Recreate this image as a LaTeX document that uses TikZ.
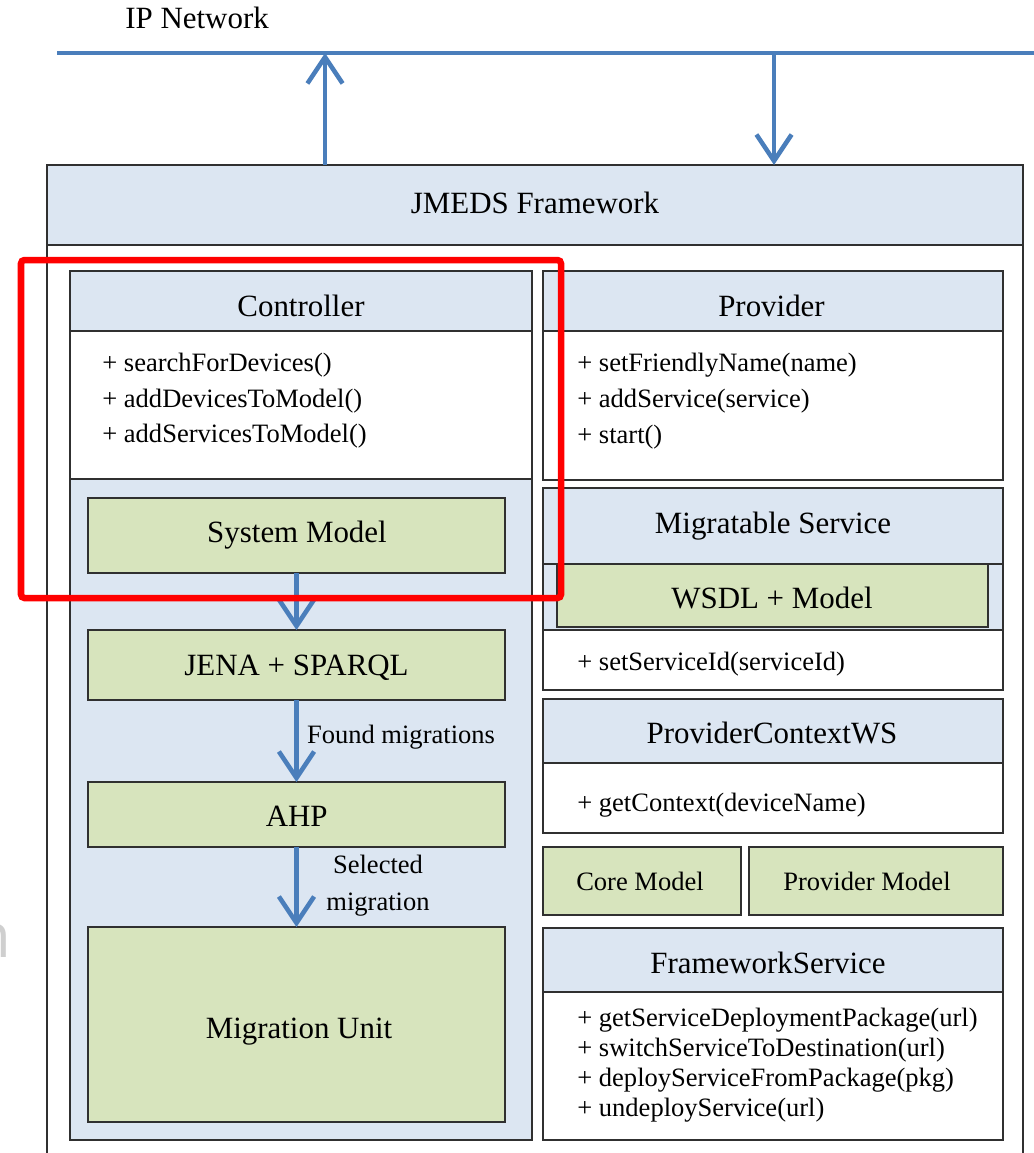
\documentclass[tikz,border=0pt]{standalone}
\usepackage{fontspec}
\setmainfont{Liberation Serif}
\newfontfamily\ghostfont{Open Sans}
\usetikzlibrary{arrows.meta,fit}
\definecolor{hdrblue}{HTML}{DCE6F2}
\definecolor{boxgreen}{HTML}{D7E4BD}
\definecolor{flowblue}{HTML}{4A7EBB}
\definecolor{edgegray}{HTML}{303030}
\definecolor{markred}{HTML}{FF0000}
\definecolor{ghostgray}{HTML}{CFCFCF}
\newcommand\hdfont{\fontsize{17.6}{21}\selectfont}
\newcommand\mtfont{\fontsize{15.1}{18}\selectfont}
\tikzset{
  frame/.style={draw=edgegray, line width=0.85pt, inner sep=0pt, outer sep=0pt},
  hdrbox/.style={frame, fill=hdrblue},
  greenbox/.style={frame, fill=boxgreen},
  whitebox/.style={frame, fill=white},
  titletext/.style={anchor=base, inner sep=0pt, font=\hdfont},
  methodtext/.style={anchor=base west, inner sep=0pt, font=\mtfont},
  labeltext/.style={anchor=base, inner sep=0pt, font=\mtfont},
  flow/.style={draw=flowblue, line width=2.6pt, -{Straight Barb[length=15pt,width=20pt]}},
  netline/.style={draw=flowblue, line width=2.4pt},
  focusbox/.style={draw=markred, line width=3.7pt, rounded corners=2pt, inner sep=0pt},
}
\begin{document}
\begin{tikzpicture}[x=0.02cm,y=-0.02cm]
\useasboundingbox (0,0) rectangle (1034,1153);
\fill[white] (0,0) rectangle (1034,1153);

% faint cropped letter at the left edge
\node[anchor=base east, inner sep=0pt, text=ghostgray, font=\ghostfont\fontsize{35}{40}\selectfont] (ghost) at (12,957) {n};

% IP network
\node[anchor=base west, inner sep=0pt, font=\hdfont] (iplabel) at (125,28) {IP Network};
\coordinate (netL) at (57,53);
\coordinate (netR) at (1040,53);
\draw[netline] (netL) -- (netR);

% JMEDS framework
\node[whitebox, fit={(47,165)(1023,1160)}] (jmedsbody) {};
\node[hdrbox, fit={(47,165)(1023,245)}] (jmedshdr) {};
\node[titletext] (jmedstxt) at (535,213) {JMEDS Framework};
\coordinate (upx) at (325,53);
\coordinate (dnx) at (774,53);
\draw[flow] (upx |- jmedshdr.north) -- (upx);
\draw[flow] (dnx) -- (dnx |- jmedshdr.north);

% Controller column
\node[frame, fill=hdrblue, fit={(70,271)(532,1140)}] (ctrlbody) {};
\node[hdrbox, fit={(70,271)(532,331)}] (ctrlhdr) {};
\node[titletext] (ctrltxt) at (301,316.7) {Controller};
\node[whitebox, fit={(70,331)(532,479)}] (ctrlmeth) {};
\node[methodtext] (cm1) at (102,371.7) {+ searchForDevices()};
\node[methodtext] (cm2) at (102,407.2) {+ addDevicesToModel()};
\node[methodtext] (cm3) at (102,442.7) {+ addServicesToModel()};

\node[greenbox, fit={(88,498)(505,573)}] (sysmodel) {};
\node[titletext] (sysmodeltxt) at (297,542.7) {System Model};
\node[greenbox, fit={(88,630)(505,700)}] (jena) {};
\node[titletext] (jenatxt) at (296.5,675) {JENA + SPARQL};
\node[greenbox, fit={(88,782)(505,847)}] (ahp) {};
\node[titletext] (ahptxt) at (296.7,826.7) {AHP};
\node[greenbox, fit={(88,927)(505,1122)}] (unit) {};
\node[titletext] (unittxt) at (299,1038) {Migration Unit};

\coordinate (ax) at (296.5,0);
\draw[flow] (sysmodel.south -| ax) -- (jena.north -| ax);
\draw[flow] (jena.south -| ax) -- (ahp.north -| ax);
\draw[flow] (ahp.south -| ax) -- (unit.north -| ax);
\node[labeltext] (lblfound) at (401,743.3) {Found migrations};
\node[labeltext] (lblsel) at (378,873.3) {Selected};
\node[labeltext] (lblmig) at (378,910) {migration};

% Provider
\node[whitebox, fit={(543,271)(1003,480)}] (provbody) {};
\node[hdrbox, fit={(543,271)(1003,331)}] (provhdr) {};
\node[titletext] (provtxt) at (771.5,316.7) {Provider};
\node[methodtext] (pm1) at (577,371.7) {+ setFriendlyName(name)};
\node[methodtext] (pm2) at (577,407) {+ addService(service)};
\node[methodtext] (pm3) at (577,443) {+ start()};

% Migratable Service
\node[frame, fill=hdrblue, fit={(543,488)(1003,630)}] (migrtop) {};
\node[hdrbox, fit={(543,488)(1003,564)}] (migrhdr) {};
\node[titletext] (migrtxt) at (773,533.3) {Migratable Service};
\node[greenbox, fit={(557,564)(988,627)}] (wsdl) {};
\node[titletext] (wsdltxt) at (772,608.3) {WSDL + Model};
\node[whitebox, fit={(543,630)(1003,690)}] (migrmeth) {};
\node[frame, line width=1.5pt, fit={(543,488)(1003,690)}] (migrbody) {};
\node[methodtext] (mm1) at (577,670) {+ setServiceId(serviceId)};

% ProviderContextWS
\node[whitebox, fit={(543,699)(1003,833)}] (ctxbody) {};
\node[hdrbox, fit={(543,699)(1003,763)}] (ctxhdr) {};
\node[titletext] (ctxtxt) at (772,743.3) {ProviderContextWS};
\node[methodtext] (xm1) at (577,811.7) {+ getContext(deviceName)};

% Models
\node[greenbox, fit={(543,847)(741,915)}] (coremodel) {};
\node[labeltext] (coremodeltxt) at (640,890) {Core Model};
\node[greenbox, fit={(749,847)(1003,915)}] (provmodel) {};
\node[labeltext] (provmodeltxt) at (867,890) {Provider Model};

% FrameworkService
\node[whitebox, fit={(543,928)(1003,1140)}] (fwbody) {};
\node[hdrbox, fit={(543,928)(1003,992)}] (fwhdr) {};
\node[titletext] (fwtxt) at (768,973.3) {FrameworkService};
\node[methodtext] (fm1) at (577,1026.7) {+ getServiceDeploymentPackage(url)};
\node[methodtext] (fm2) at (577,1056.7) {+ switchServiceToDestination(url)};
\node[methodtext] (fm3) at (577,1086.7) {+ deployServiceFromPackage(pkg)};
\node[methodtext] (fm4) at (577,1116.7) {+ undeployService(url)};

% red highlight
\node[focusbox, fit={(21,260)(561,598)}] (focus) {};
\end{tikzpicture}
\end{document}
